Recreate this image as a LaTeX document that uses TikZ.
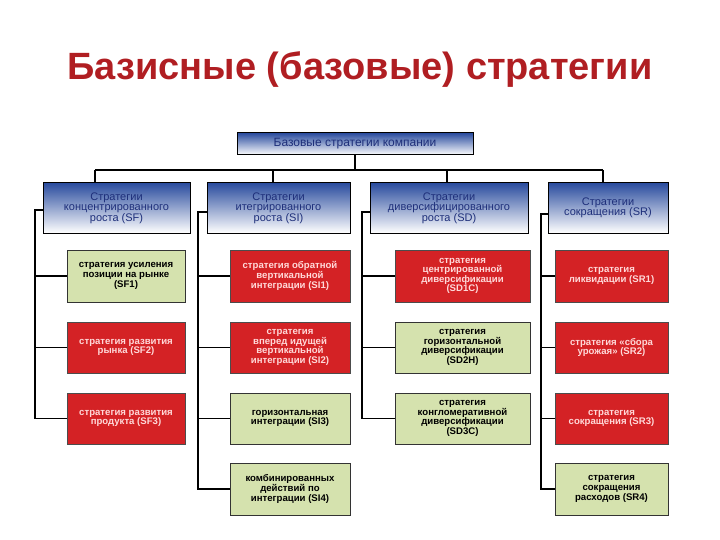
\documentclass[tikz,border=0pt]{standalone}
\usepackage{fontspec}
\setmainfont{Liberation Sans}
\definecolor{titlered}{HTML}{B01E22}
\definecolor{boxred}{HTML}{D42225}
\definecolor{boxgreen}{HTML}{D5E2AE}
\definecolor{navy}{HTML}{1E2F7A}
\definecolor{hblue}{HTML}{2A4C9E}
\tikzset{
  head/.style={draw=black, line width=1pt, top color=hblue, bottom color=white, text=navy,
    align=center, font=\fontsize{11}{10.5}\selectfont, inner sep=1pt},
  redbox/.style={draw=black!70, line width=0.8pt, fill=boxred, text=red!15,
    align=center, font=\bfseries\fontsize{9.6}{9.6}\selectfont, inner sep=1pt},
  greenbox/.style={draw=black!80, line width=0.8pt, fill=boxgreen, text=black,
    align=center, font=\bfseries\fontsize{9.6}{9.6}\selectfont, inner sep=1pt},
  link/.style={line width=1.6pt, black}
}
\begin{document}
\begin{tikzpicture}[x=1pt, y=-1pt]
    \useasboundingbox (0, 0) rectangle (720, 540);
    \node[text=titlered, font=\bfseries\fontsize{38}{38}\selectfont] (title) at (360, 70) {Базисные (базовые) стратегии};
    % top level
    \node[head, font=\fontsize{12}{12}\selectfont, minimum width=236pt, minimum height=22pt] (root) at (355, 144) {Базовые стратегии компании};
    \coordinate (rj) at (355, 170);
    \draw[link] (root.south) -- (rj);
    \draw[link] (95, 170) -- (603, 170);
    % column heads
    \node[head, minimum width=147pt, minimum height=50pt] (sf) at (116.5, 208) {Стратегии\\концентрированного\\роста (SF)};
    \node[head, minimum width=143pt, minimum height=50pt] (si) at (278.5, 208) {Стратегии\\итегрированного\\роста (SI)};
    \node[head, minimum width=158pt, minimum height=50pt] (sd) at (449, 208) {Стратегии\\диверсифицированного\\роста (SD)};
    \node[head, minimum width=120pt, minimum height=50pt] (sr) at (608, 208) {Стратегии\\сокращения (SR)};
    \foreach \c/\x in {sf/95, si/273, sd/447, sr/603} {
        \draw[link] (\x, 170) -- (\x, 183);
    }
    % column 1
    \node[greenbox, minimum width=118pt, minimum height=52pt] (sf1) at (126, 276) {стратегия усиления\\позиции на рынке\\(SF1)};
    \node[redbox, minimum width=118pt, minimum height=51pt] (sf2) at (126, 347.5) {стратегия развития\\рынка (SF2)};
    \node[redbox, minimum width=118pt, minimum height=51pt] (sf3) at (126, 418.5) {стратегия развития\\продукта (SF3)};
    % column 2
    \node[redbox, minimum width=120pt, minimum height=52pt] (si1) at (290, 276) {стратегия обратной\\вертикальной\\интеграции (SI1)};
    \node[redbox, minimum width=120pt, minimum height=51pt] (si2) at (290, 347.5) {стратегия\\вперед идущей\\вертикальной\\интеграции (SI2)};
    \node[greenbox, minimum width=120pt, minimum height=51pt] (si3) at (290, 418.5) {горизонтальная\\интеграции (SI3)};
    \node[greenbox, minimum width=120pt, minimum height=52pt] (si4) at (290, 489) {комбинированных\\действий по\\интеграции (SI4)};
    % column 3
    \node[redbox, minimum width=135pt, minimum height=52pt] (sd1) at (462.5, 276) {стратегия\\центрированной\\диверсификации\\(SD1C)};
    \node[greenbox, minimum width=135pt, minimum height=51pt] (sd2) at (462.5, 347.5) {стратегия\\горизонтальной\\диверсификации\\(SD2H)};
    \node[greenbox, minimum width=135pt, minimum height=51pt] (sd3) at (462.5, 418.5) {стратегия\\конгломеративной\\диверсификации\\(SD3C)};
    % column 4
    \node[redbox, minimum width=113pt, minimum height=52pt] (sr1) at (611.5, 276) {стратегия\\ликвидации (SR1)};
    \node[redbox, minimum width=113pt, minimum height=51pt] (sr2) at (611.5, 347.5) {стратегия «сбора\\урожая» (SR2)};
    \node[redbox, minimum width=113pt, minimum height=51pt] (sr3) at (611.5, 418.5) {стратегия\\сокращения (SR3)};
    \node[greenbox, minimum width=113pt, minimum height=52pt] (sr4) at (611.5, 489) {стратегия\\сокращения\\расходов (SR4)};
    % trunks and branches
    \draw[link] (43, 210) -- (35, 210) |- (sf3.west);
    \draw[link] (35, 276) -- (sf1.west);
    \draw[link] (35, 347.5) -- (sf2.west);
    \draw[link] (207, 212) -- (198, 212) |- (si4.west);
    \foreach \n/\y in {si1/276, si2/347.5, si3/418.5} {
        \draw[link] (198, \y) -- (\n.west);
    }
    \draw[link] (370, 212) -- (362, 212) |- (sd3.west);
    \draw[link] (362, 276) -- (sd1.west);
    \draw[link] (362, 347.5) -- (sd2.west);
    \draw[link] (548, 214) -- (541, 214) |- (sr4.west);
    \foreach \n/\y in {sr1/276, sr2/347.5, sr3/418.5} {
        \draw[link] (541, \y) -- (\n.west);
    }
\end{tikzpicture}
\end{document}
